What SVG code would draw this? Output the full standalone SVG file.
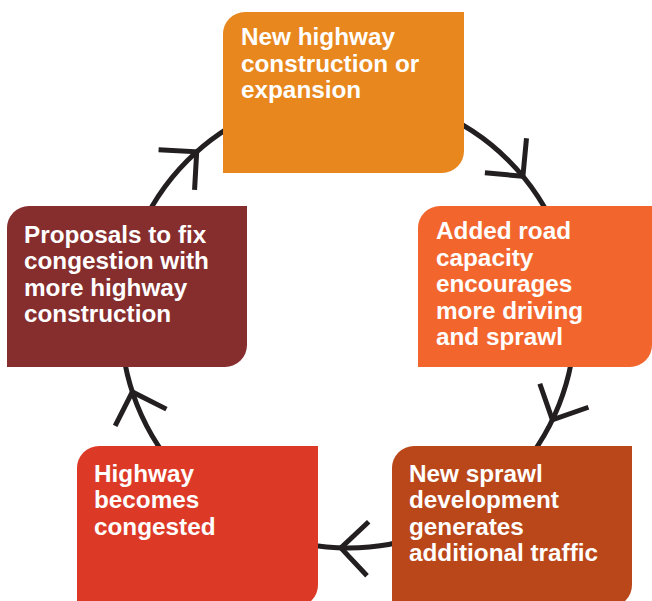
<svg xmlns="http://www.w3.org/2000/svg" xmlns:xlink="http://www.w3.org/1999/xlink" width="652" height="601" viewBox="0 0 652 601">
  <style>
    .loop { fill: none; stroke: #231f20; stroke-width: 5; }
    .chev { fill: none; stroke: #231f20; stroke-width: 5; stroke-linejoin: miter; }
    .lbl { fill: #ffffff; font-family: "Liberation Sans", Arial, sans-serif; font-weight: 700; font-size: 24.3px; }
  </style>
  <defs>
    <path id="chev" class="chev" d="M-27,-27 L0,0 L27,-27"/>
  </defs>
  <rect width="652" height="601" fill="#ffffff"/>

  <g id="connectors">
    <circle class="loop" cx="348" cy="321" r="227"/>
    <use xlink:href="#chev" href="#chev" transform="translate(348,321) rotate(-131.8) translate(227,0)"/>
    <use xlink:href="#chev" href="#chev" transform="translate(348,321) rotate(-39.6) translate(227,0)"/>
    <use xlink:href="#chev" href="#chev" transform="translate(348,321) rotate(25.8) translate(227,0)"/>
    <use xlink:href="#chev" href="#chev" transform="translate(348,321) rotate(91.8) translate(227,0)"/>
    <use xlink:href="#chev" href="#chev" transform="translate(348,321) rotate(161.8) translate(227,0)"/>
  </g>

  <g id="node-construction">
    <path fill="#E8871E" d="M245,12 H464 V151 A22,22 0 0 1 442,173 H223 V34 A22,22 0 0 1 245,12 Z"/>
    <text class="lbl"><tspan x="241" y="45">New highway</tspan><tspan x="241" y="71.5">construction or</tspan><tspan x="241" y="98">expansion</tspan></text>
  </g>

  <g id="node-capacity">
    <path fill="#F2662E" d="M440,206 H652 V345 A22,22 0 0 1 630,367 H418 V228 A22,22 0 0 1 440,206 Z"/>
    <text class="lbl"><tspan x="436" y="239.3">Added road</tspan><tspan x="436" y="265.8">capacity</tspan><tspan x="436" y="292.3">encourages</tspan><tspan x="436" y="318.8">more driving</tspan><tspan x="436" y="345.3">and sprawl</tspan></text>
  </g>

  <g id="node-sprawl">
    <path fill="#BA4719" d="M414,446 H632 V585 A22,22 0 0 1 610,607 H392 V468 A22,22 0 0 1 414,446 Z"/>
    <text class="lbl"><tspan x="409" y="481.7">New sprawl</tspan><tspan x="409" y="508.2">development</tspan><tspan x="409" y="534.7">generates</tspan><tspan x="409" y="561.2">additional traffic</tspan></text>
  </g>

  <g id="node-congested">
    <path fill="#DC3A27" d="M99,446 H318 V585 A22,22 0 0 1 296,607 H77 V468 A22,22 0 0 1 99,446 Z"/>
    <text class="lbl"><tspan x="94" y="481.7">Highway</tspan><tspan x="94" y="508.2">becomes</tspan><tspan x="94" y="534.7">congested</tspan></text>
  </g>

  <g id="node-proposals">
    <path fill="#862D2D" d="M29,206 H247 V345 A22,22 0 0 1 225,367 H7 V228 A22,22 0 0 1 29,206 Z"/>
    <text class="lbl"><tspan x="24" y="242.7">Proposals to fix</tspan><tspan x="24" y="269.2">congestion with</tspan><tspan x="24" y="295.7">more highway</tspan><tspan x="24" y="322.2">construction</tspan></text>
  </g>
</svg>
